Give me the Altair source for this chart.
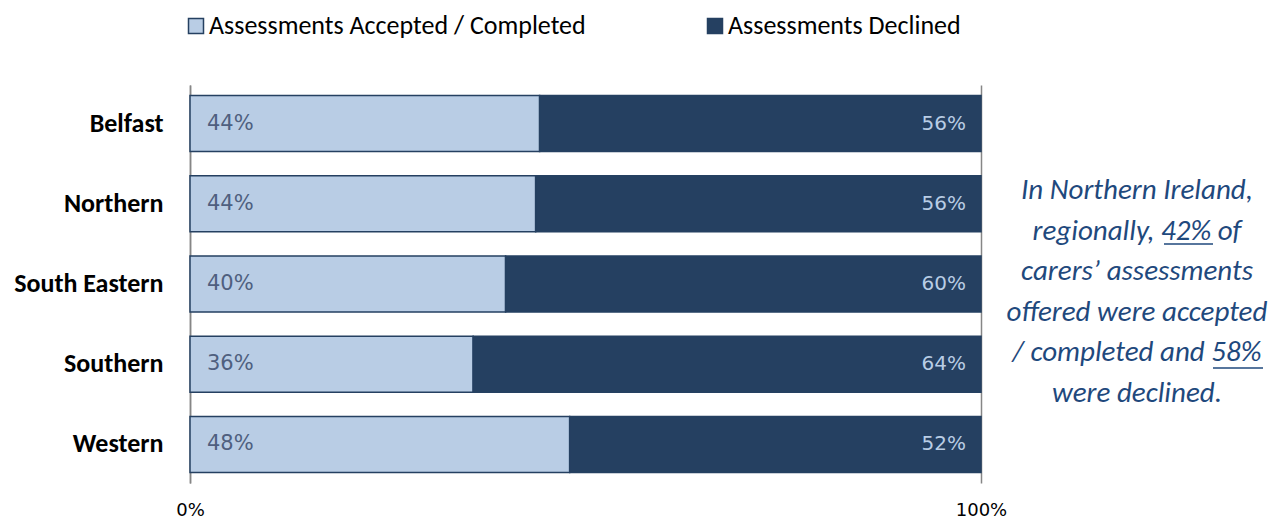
import altair as alt
import pandas as pd

regions = ["Belfast", "Northern", "South Eastern", "Southern", "Western"]
accepted = [44.2, 43.7, 39.9, 35.8, 48.0]
declined = [55.8, 56.3, 60.1, 64.2, 52.0]
series = ["Assessments Accepted / Completed", "Assessments Declined"]
colors = ["#B9CDE5", "#254061"]

rows = []
for r, a, d in zip(regions, accepted, declined):
    rows.append({"region": r, "series": series[0], "value": a, "ord": 0})
    rows.append({"region": r, "series": series[1], "value": d, "ord": 1})
df = pd.DataFrame(rows)

FONT = "Carlito, Lato, sans-serif"
NUMFONT = "DejaVu Sans"

y_enc = alt.Y("region:N", sort=regions, title=None,
              scale=alt.Scale(paddingInner=0.3, paddingOuter=0.13),
              axis=alt.Axis(labelFont=FONT, labelFontWeight="bold", labelFontSize=26,
                            labelColor="#000000", labelPadding=27, ticks=False,
                            domainColor="#868686", domainWidth=1.5))

bars = alt.Chart(df).mark_bar(stroke="#254061", strokeWidth=1.5).encode(
    y=y_enc,
    x=alt.X("value:Q", stack="zero", title=None,
            scale=alt.Scale(domain=[0, 100], nice=False),
            axis=alt.Axis(values=[0, 100], labelExpr="datum.value + '%'",
                          grid=True, gridColor="#868686", gridWidth=1.5,
                          domain=False, ticks=False, labelFlush=False, labelFont=NUMFONT,
                          labelFontSize=18, labelColor="#000000", labelPadding=18)),
    color=alt.Color("series:N", scale=alt.Scale(domain=series, range=colors),
                    legend=alt.Legend(title=None, orient="none", legendX=-7, legendY=-72,
                                      direction="horizontal", columns=2, columnPadding=116,
                                      symbolType="square", symbolSize=225,
                                      symbolStrokeColor="#254061", symbolStrokeWidth=1.5,
                                      labelFont=FONT, labelFontSize=26, labelColor="#000000",
                                      labelOffset=0, labelLimit=600, padding=0)),
    order=alt.Order("ord:Q"),
)

left_lbl = alt.Chart(df).transform_filter(alt.datum.ord == 0).transform_calculate(
    lbl="format(datum.value, '.0f') + '%'"
).mark_text(
    align="left", dx=17, font=NUMFONT, fontSize=21, color="#4F5F7F", baseline="middle"
).encode(
    y=alt.Y("region:N", sort=regions),
    x=alt.datum(0),
    text="lbl:N",
)

right_lbl = alt.Chart(df).transform_filter(alt.datum.ord == 1).transform_calculate(
    lbl="format(datum.value, '.0f') + '%'"
).mark_text(
    align="right", dx=-15, font=NUMFONT, fontSize=20, color="#B9CDE5", baseline="middle"
).encode(
    y=alt.Y("region:N", sort=regions),
    x=alt.datum(100),
    text="lbl:N",
)

note_lines = ["In Northern Ireland,", "regionally, 42% of", "carers\u2019 assessments",
              "offered were accepted", "/ completed and 58%", "were declined."]
note = alt.Chart(pd.DataFrame({"t": [note_lines]})).mark_text(
    font=FONT, fontStyle="italic", fontSize=29, color="#1F497D", align="center",
    baseline="middle", lineHeight=40.5
).encode(x=alt.value(947), y=alt.value(105), text="t")

u1 = alt.Chart(pd.DataFrame({"a": [0]})).mark_rule(color="#1F497D", strokeWidth=1.5).encode(
    x=alt.value(974), x2=alt.value(1023), y=alt.value(159))
u2 = alt.Chart(pd.DataFrame({"a": [0]})).mark_rule(color="#1F497D", strokeWidth=1.5).encode(
    x=alt.value(1023), x2=alt.value(1073), y=alt.value(283))

chart = alt.layer(bars, left_lbl, right_lbl, note, u1, u2).properties(
    width=791, height=398,
    autosize=alt.AutoSizeParams(type="none"),
    padding={"left": 182, "top": 77, "right": 290, "bottom": 37},
).configure_view(stroke=None)

chart.save("out.html", embed_options={"renderer": "svg", "actions": False})
